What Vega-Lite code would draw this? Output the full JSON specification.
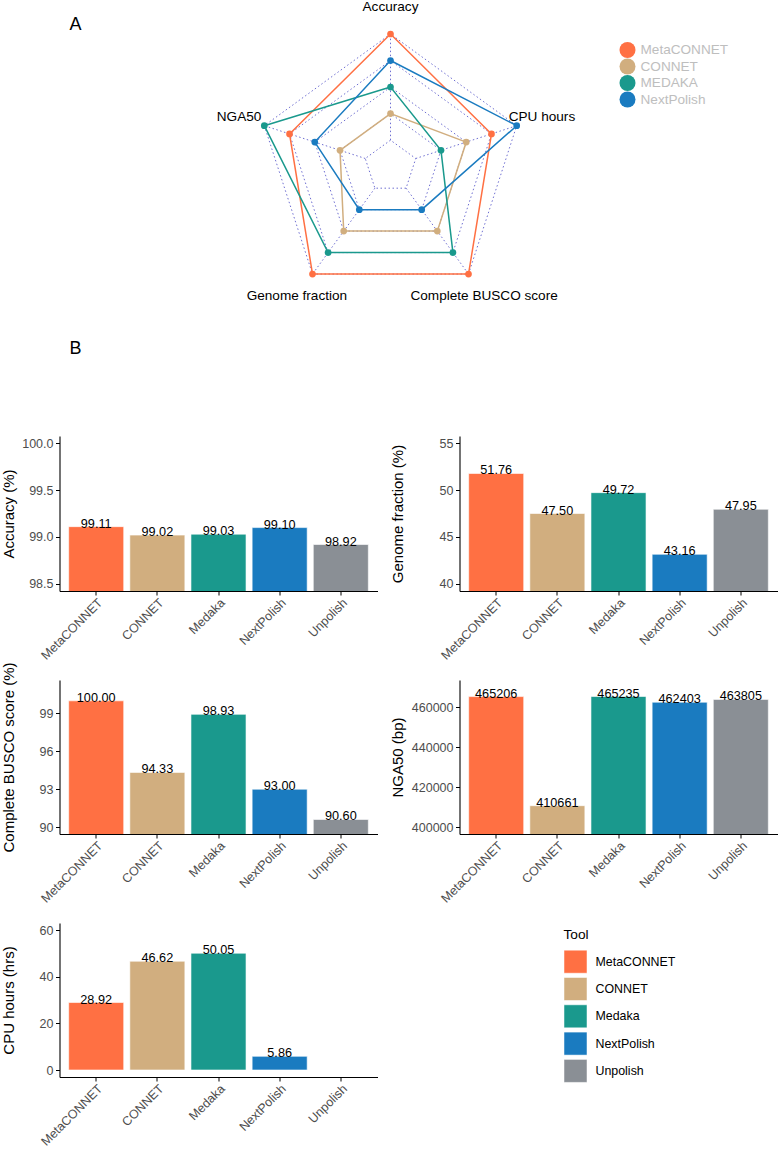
{
  "$schema": "https://vega.github.io/schema/vega-lite/v6.json",
  "padding": {"left": 1.5, "top": 0, "right": 0, "bottom": 0},
  "background": "white",
  "columns": 2,
  "bounds": "flush",
  "spacing": {"row": 89, "column": 82},
  "datasets": {
    "bars": [
      {"Tool": "MetaCONNET", "Accuracy": 99.11, "GenomeFraction": 51.76, "BUSCO": 100.00, "NGA50": 465206, "CPUHours": 28.92},
      {"Tool": "CONNET", "Accuracy": 99.02, "GenomeFraction": 47.50, "BUSCO": 94.33, "NGA50": 410661, "CPUHours": 46.62},
      {"Tool": "Medaka", "Accuracy": 99.03, "GenomeFraction": 49.72, "BUSCO": 98.93, "NGA50": 465235, "CPUHours": 50.05},
      {"Tool": "NextPolish", "Accuracy": 99.10, "GenomeFraction": 43.16, "BUSCO": 93.00, "NGA50": 462403, "CPUHours": 5.86},
      {"Tool": "Unpolish", "Accuracy": 98.92, "GenomeFraction": 47.95, "BUSCO": 90.60, "NGA50": 463805, "CPUHours": null}
    ],
    "radar": [
      {"tool": "MetaCONNET", "axis": "Accuracy", "score": 1.0},
      {"tool": "MetaCONNET", "axis": "NGA50", "score": 0.8},
      {"tool": "MetaCONNET", "axis": "Genome fraction", "score": 1.0},
      {"tool": "MetaCONNET", "axis": "Complete BUSCO score", "score": 1.0},
      {"tool": "MetaCONNET", "axis": "CPU hours", "score": 0.8},
      {"tool": "CONNET", "axis": "Accuracy", "score": 0.4},
      {"tool": "CONNET", "axis": "NGA50", "score": 0.4},
      {"tool": "CONNET", "axis": "Genome fraction", "score": 0.6},
      {"tool": "CONNET", "axis": "Complete BUSCO score", "score": 0.6},
      {"tool": "CONNET", "axis": "CPU hours", "score": 0.6},
      {"tool": "MEDAKA", "axis": "Accuracy", "score": 0.6},
      {"tool": "MEDAKA", "axis": "NGA50", "score": 1.0},
      {"tool": "MEDAKA", "axis": "Genome fraction", "score": 0.8},
      {"tool": "MEDAKA", "axis": "Complete BUSCO score", "score": 0.8},
      {"tool": "MEDAKA", "axis": "CPU hours", "score": 0.4},
      {"tool": "NextPolish", "axis": "Accuracy", "score": 0.8},
      {"tool": "NextPolish", "axis": "NGA50", "score": 0.6},
      {"tool": "NextPolish", "axis": "Genome fraction", "score": 0.4},
      {"tool": "NextPolish", "axis": "Complete BUSCO score", "score": 0.4},
      {"tool": "NextPolish", "axis": "CPU hours", "score": 1.0}
    ],
    "axes": [
      {"axis": "Accuracy", "angle": 90, "order": 1, "levels": [0.2, 0.4, 0.6, 0.8, 1.0]},
      {"axis": "NGA50", "angle": 162, "order": 2, "levels": [0.2, 0.4, 0.6, 0.8, 1.0]},
      {"axis": "Genome fraction", "angle": 234, "order": 3, "levels": [0.2, 0.4, 0.6, 0.8, 1.0]},
      {"axis": "Complete BUSCO score", "angle": 306, "order": 4, "levels": [0.2, 0.4, 0.6, 0.8, 1.0]},
      {"axis": "CPU hours", "angle": 18, "order": 5, "levels": [0.2, 0.4, 0.6, 0.8, 1.0]}
    ]
  },
  "concat": [
    {
      "width": 318,
      "height": 346,
      "title": {"text": "A", "anchor": "start", "frame": "group", "dx": 10, "offset": -43, "baseline": "middle", "fontSize": 18, "fontWeight": "normal", "font": "Liberation Sans", "color": "black"},
      "layer": [
        {
          "data": {"name": "axes"},
          "transform": [
            {"flatten": ["levels"], "as": ["level"]},
            {"calculate": "datum.level * cos(datum.angle * PI / 180)", "as": "gx"},
            {"calculate": "datum.level * sin(datum.angle * PI / 180)", "as": "gy"}
          ],
          "mark": {"type": "line", "interpolate": "linear-closed", "strokeDash": [1.5, 2.5], "strokeWidth": 1, "color": "#6f6fd2"},
          "encoding": {
            "x": {"field": "gx", "type": "quantitative", "scale": {"domain": [-2.4944, -0.0980], "nice": false, "zero": false}, "axis": null},
            "y": {"field": "gy", "type": "quantitative", "scale": {"domain": [-1.3587, 1.2487], "nice": false, "zero": false}, "axis": null},
            "detail": {"field": "level", "type": "nominal"},
            "order": {"field": "order", "type": "quantitative"}
          }
        },
        {
          "data": {"name": "axes"},
          "transform": [
            {"calculate": "0.2 * cos(datum.angle * PI / 180)", "as": "sx"},
            {"calculate": "0.2 * sin(datum.angle * PI / 180)", "as": "sy"},
            {"calculate": "cos(datum.angle * PI / 180)", "as": "ex"},
            {"calculate": "sin(datum.angle * PI / 180)", "as": "ey"}
          ],
          "mark": {"type": "rule", "strokeDash": [1.5, 2.5], "strokeWidth": 1, "color": "#6f6fd2"},
          "encoding": {
            "x": {"field": "sx", "type": "quantitative", "scale": {"domain": [-2.4944, -0.0980], "nice": false, "zero": false}, "axis": null},
            "y": {"field": "sy", "type": "quantitative", "scale": {"domain": [-1.3587, 1.2487], "nice": false, "zero": false}, "axis": null},
            "x2": {"field": "ex"},
            "y2": {"field": "ey"}
          }
        },
        {
          "data": {"name": "radar"},
          "transform": [
            {"lookup": "axis", "from": {"data": {"name": "axes"}, "key": "axis", "fields": ["angle", "order"]}},
            {"calculate": "datum.score * cos(datum.angle * PI / 180)", "as": "px"},
            {"calculate": "datum.score * sin(datum.angle * PI / 180)", "as": "py"}
          ],
          "encoding": {
            "x": {"field": "px", "type": "quantitative", "scale": {"domain": [-2.4944, -0.0980], "nice": false, "zero": false}, "axis": null},
            "y": {"field": "py", "type": "quantitative", "scale": {"domain": [-1.3587, 1.2487], "nice": false, "zero": false}, "axis": null},
            "color": {
              "field": "tool", "type": "nominal",
              "scale": {"domain": ["MetaCONNET", "CONNET", "MEDAKA", "NextPolish"], "range": ["#FF7043", "#D1AE7F", "#1A998D", "#1A7BC0"]},
              "legend": {"title": null, "orient": "none", "legendX": 560, "legendY": 41, "symbolType": "circle", "symbolSize": 256, "symbolStrokeWidth": 0, "symbolOpacity": 1, "labelColor": "#BEBEBE", "labelFontSize": 13.6, "labelFont": "Liberation Sans", "labelOffset": 5, "rowPadding": 0.5, "padding": 0,
                         "encode": {"symbols": {"update": {"fill": {"scale": "color", "field": "value"}, "strokeWidth": {"value": 0}}}}}
            }
          },
          "layer": [
            {
              "mark": {"type": "point", "filled": true, "size": 45, "opacity": 1}
            },
            {
              "mark": {"type": "line", "interpolate": "linear-closed", "strokeWidth": 1.5},
              "encoding": {
                "detail": {"field": "tool", "type": "nominal"},
                "order": {"field": "order", "type": "quantitative"}
              }
            }
          ]
        },
        {
          "data": {"name": "axes"},
          "transform": [
            {"calculate": "1.2 * cos(datum.angle * PI / 180)", "as": "lx"},
            {"calculate": "1.2 * sin(datum.angle * PI / 180)", "as": "ly"}
          ],
          "mark": {"type": "text", "fontSize": 13.6, "font": "Liberation Sans", "color": "black", "align": "center", "baseline": "middle"},
          "encoding": {
            "x": {"field": "lx", "type": "quantitative", "scale": {"domain": [-2.4944, -0.0980], "nice": false, "zero": false}, "axis": null},
            "y": {"field": "ly", "type": "quantitative", "scale": {"domain": [-1.3587, 1.2487], "nice": false, "zero": false}, "axis": null},
            "text": {"field": "axis", "type": "nominal"}
          }
        }
      ]
    },
    {
      "width": 318,
      "height": 346,
      "data": {"values": []},
      "mark": "point",
      "encoding": {}
    },
    {
      "width": 318,
      "height": 155,
      "title": {"text": "B", "anchor": "start", "frame": "group", "dx": 10, "offset": 68.7, "baseline": "middle", "fontSize": 18, "fontWeight": "normal", "font": "Liberation Sans", "color": "black"},
      "data": {"name": "bars"},
      "encoding": {
        "x": {"field": "Tool", "type": "nominal", "sort": ["MetaCONNET", "CONNET", "Medaka", "NextPolish", "Unpolish"], "scale": {"paddingInner": 0.1, "paddingOuter": 0.15}, "title": null},
        "y": {"field": "Accuracy", "type": "quantitative", "scale": {"domain": [98.425, 100.075], "nice": false, "zero": false},
              "axis": {"title": "Accuracy (%)", "values": [98.5, 99.0, 99.5, 100.0], "format": ".1f", "titleX": -50.7, "titleY": 77.5}}
      },
      "layer": [
        {"mark": {"type": "bar", "clip": true, "stroke": "white", "strokeWidth": 0.6},
         "encoding": {"fill": {"field": "Tool", "type": "nominal", "scale": {"domain": ["MetaCONNET", "CONNET", "Medaka", "NextPolish", "Unpolish"], "range": ["#FF7043", "#D1AE7F", "#1A998D", "#1A7BC0", "#8A8F95"]},
                      "legend": {"title": "Tool", "orient": "none", "legendX": 504, "legendY": 927, "symbolType": "square", "symbolSize": 529, "symbolStrokeColor": "white", "symbolStrokeWidth": 0.5, "titleFontSize": 13.7, "titleFontWeight": "normal", "titleColor": "black", "titleFont": "Liberation Sans", "titlePadding": 8, "labelFontSize": 12.4, "labelColor": "black", "labelFont": "Liberation Sans", "labelOffset": 8, "rowPadding": 1.3, "padding": 0}}}},
        {"mark": {"type": "text", "fontSize": 12.7, "font": "Liberation Sans", "color": "black", "baseline": "alphabetic", "dy": 1},
         "encoding": {"text": {"field": "Accuracy", "type": "quantitative", "format": ".2f"}}}
      ]
    },
    {
      "width": 318,
      "height": 155,
      "data": {"name": "bars"},
      "encoding": {
        "x": {"field": "Tool", "type": "nominal", "sort": ["MetaCONNET", "CONNET", "Medaka", "NextPolish", "Unpolish"], "scale": {"paddingInner": 0.1, "paddingOuter": 0.15}, "title": null},
        "y": {"field": "GenomeFraction", "type": "quantitative", "scale": {"domain": [39.25, 55.75], "nice": false, "zero": false},
              "axis": {"title": "Genome fraction (%)", "values": [40, 45, 50, 55], "format": "d", "titleX": -62, "titleY": 77.5}}
      },
      "layer": [
        {"mark": {"type": "bar", "clip": true, "stroke": "white", "strokeWidth": 0.6},
         "encoding": {"fill": {"field": "Tool", "type": "nominal", "scale": {"domain": ["MetaCONNET", "CONNET", "Medaka", "NextPolish", "Unpolish"], "range": ["#FF7043", "#D1AE7F", "#1A998D", "#1A7BC0", "#8A8F95"]},
                      "legend": {"title": "Tool", "orient": "none", "legendX": 504, "legendY": 927, "symbolType": "square", "symbolSize": 529, "symbolStrokeColor": "white", "symbolStrokeWidth": 0.5, "titleFontSize": 13.7, "titleFontWeight": "normal", "titleColor": "black", "titleFont": "Liberation Sans", "titlePadding": 8, "labelFontSize": 12.4, "labelColor": "black", "labelFont": "Liberation Sans", "labelOffset": 8, "rowPadding": 1.3, "padding": 0}}}},
        {"mark": {"type": "text", "fontSize": 12.7, "font": "Liberation Sans", "color": "black", "baseline": "alphabetic", "dy": 1},
         "encoding": {"text": {"field": "GenomeFraction", "type": "quantitative", "format": ".2f"}}}
      ]
    },
    {
      "width": 318,
      "height": 154,
      "data": {"name": "bars"},
      "encoding": {
        "x": {"field": "Tool", "type": "nominal", "sort": ["MetaCONNET", "CONNET", "Medaka", "NextPolish", "Unpolish"], "scale": {"paddingInner": 0.1, "paddingOuter": 0.15}, "title": null},
        "y": {"field": "BUSCO", "type": "quantitative", "scale": {"domain": [89.45, 101.65], "nice": false, "zero": false},
              "axis": {"title": "Complete BUSCO score (%)", "values": [90, 93, 96, 99], "format": "d", "titleX": -50.7, "titleY": 77}}
      },
      "layer": [
        {"mark": {"type": "bar", "clip": true, "stroke": "white", "strokeWidth": 0.6},
         "encoding": {"fill": {"field": "Tool", "type": "nominal", "scale": {"domain": ["MetaCONNET", "CONNET", "Medaka", "NextPolish", "Unpolish"], "range": ["#FF7043", "#D1AE7F", "#1A998D", "#1A7BC0", "#8A8F95"]},
                      "legend": {"title": "Tool", "orient": "none", "legendX": 504, "legendY": 927, "symbolType": "square", "symbolSize": 529, "symbolStrokeColor": "white", "symbolStrokeWidth": 0.5, "titleFontSize": 13.7, "titleFontWeight": "normal", "titleColor": "black", "titleFont": "Liberation Sans", "titlePadding": 8, "labelFontSize": 12.4, "labelColor": "black", "labelFont": "Liberation Sans", "labelOffset": 8, "rowPadding": 1.3, "padding": 0}}}},
        {"mark": {"type": "text", "fontSize": 12.7, "font": "Liberation Sans", "color": "black", "baseline": "alphabetic", "dy": 1},
         "encoding": {"text": {"field": "BUSCO", "type": "quantitative", "format": ".2f"}}}
      ]
    },
    {
      "width": 318,
      "height": 154,
      "data": {"name": "bars"},
      "encoding": {
        "x": {"field": "Tool", "type": "nominal", "sort": ["MetaCONNET", "CONNET", "Medaka", "NextPolish", "Unpolish"], "scale": {"paddingInner": 0.1, "paddingOuter": 0.15}, "title": null},
        "y": {"field": "NGA50", "type": "quantitative", "scale": {"domain": [396500, 473500], "nice": false, "zero": false},
              "axis": {"title": "NGA50 (bp)", "values": [400000, 420000, 440000, 460000], "format": "d", "titleX": -62, "titleY": 77}}
      },
      "layer": [
        {"mark": {"type": "bar", "clip": true, "stroke": "white", "strokeWidth": 0.6},
         "encoding": {"fill": {"field": "Tool", "type": "nominal", "scale": {"domain": ["MetaCONNET", "CONNET", "Medaka", "NextPolish", "Unpolish"], "range": ["#FF7043", "#D1AE7F", "#1A998D", "#1A7BC0", "#8A8F95"]},
                      "legend": {"title": "Tool", "orient": "none", "legendX": 504, "legendY": 927, "symbolType": "square", "symbolSize": 529, "symbolStrokeColor": "white", "symbolStrokeWidth": 0.5, "titleFontSize": 13.7, "titleFontWeight": "normal", "titleColor": "black", "titleFont": "Liberation Sans", "titlePadding": 8, "labelFontSize": 12.4, "labelColor": "black", "labelFont": "Liberation Sans", "labelOffset": 8, "rowPadding": 1.3, "padding": 0}}}},
        {"mark": {"type": "text", "fontSize": 12.7, "font": "Liberation Sans", "color": "black", "baseline": "alphabetic", "dy": 1},
         "encoding": {"text": {"field": "NGA50", "type": "quantitative", "format": "d"}}}
      ]
    },
    {
      "width": 318,
      "height": 154,
      "data": {"name": "bars"},
      "encoding": {
        "x": {"field": "Tool", "type": "nominal", "sort": ["MetaCONNET", "CONNET", "Medaka", "NextPolish", "Unpolish"], "scale": {"domain": ["MetaCONNET", "CONNET", "Medaka", "NextPolish", "Unpolish"], "paddingInner": 0.1, "paddingOuter": 0.15}, "title": null},
        "y": {"field": "CPUHours", "type": "quantitative", "scale": {"domain": [-3, 63], "nice": false, "zero": false},
              "axis": {"title": "CPU hours (hrs)", "values": [0, 20, 40, 60], "format": "d", "titleX": -50.7, "titleY": 77}}
      },
      "layer": [
        {"mark": {"type": "bar", "clip": true, "stroke": "white", "strokeWidth": 0.6},
         "encoding": {"fill": {"field": "Tool", "type": "nominal", "scale": {"domain": ["MetaCONNET", "CONNET", "Medaka", "NextPolish", "Unpolish"], "range": ["#FF7043", "#D1AE7F", "#1A998D", "#1A7BC0", "#8A8F95"]},
                      "legend": {"title": "Tool", "orient": "none", "legendX": 504, "legendY": 927, "symbolType": "square", "symbolSize": 529, "symbolStrokeColor": "white", "symbolStrokeWidth": 0.5, "titleFontSize": 13.7, "titleFontWeight": "normal", "titleColor": "black", "titleFont": "Liberation Sans", "titlePadding": 8, "labelFontSize": 12.4, "labelColor": "black", "labelFont": "Liberation Sans", "labelOffset": 8, "rowPadding": 1.3, "padding": 0}}}},
        {"mark": {"type": "text", "fontSize": 12.7, "font": "Liberation Sans", "color": "black", "baseline": "alphabetic", "dy": 1},
         "encoding": {"text": {"field": "CPUHours", "type": "quantitative", "format": ".2f"}}}
      ]
    }
  ],
  "config": {
    "font": "Liberation Sans",
    "view": {"stroke": null},
    "axis": {"grid": false, "domainColor": "black", "domainWidth": 1.1, "tickColor": "black", "tickWidth": 1, "tickSize": 4, "labelColor": "#4D4D4D", "labelFont": "Liberation Sans", "labelFontSize": 12.5, "titleFont": "Liberation Sans", "titleFontSize": 15, "titleFontWeight": "normal", "titleColor": "black"},
    "axisX": {"labelAngle": -45, "labelAlign": "right", "labelBaseline": "top", "labelPadding": 1, "labelFontSize": 12.5},
    "axisY": {"labelPadding": 2.5, "titleAngle": -90, "titleBaseline": "middle", "titleAlign": "center"}
  }
}
